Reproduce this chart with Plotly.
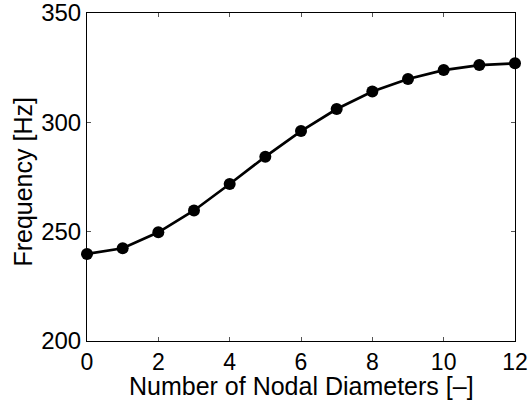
import plotly.graph_objects as go

nodal_diameters = list(range(13))
frequency_hz = [239.8, 242.4, 249.7, 259.7, 271.8, 284.3, 296.0, 306.1, 314.1, 319.8, 323.9, 326.2, 327.0]

x_ticks = [0, 2, 4, 6, 8, 10, 12]
y_ticks = [200, 250, 300, 350]
x_title = "Number of Nodal Diameters [–]"
y_title = "Frequency [Hz]"

fig = go.Figure()
fig.add_trace(go.Scatter(
    x=nodal_diameters, y=frequency_hz, mode="lines+markers",
    line=dict(color="black", width=2.7),
    marker=dict(color="black", size=12),
    showlegend=False, cliponaxis=False,
))

font_family = "Liberation Sans, Arial, sans-serif"
fig.update_layout(
    width=529, height=401,
    margin=dict(l=87, r=14, t=13, b=60),
    plot_bgcolor="white", paper_bgcolor="white",
    font=dict(family=font_family, color="black", size=24),
)
fig.update_xaxes(
    range=[0, 12], tickvals=x_ticks, ticks="inside", ticklen=4, tickcolor="#555",
    showline=True, linecolor="black", linewidth=1, mirror="ticks", showgrid=False, zeroline=False,
    tickfont=dict(size=23), automargin=False, ticklabeloverflow="allow",
)
fig.update_yaxes(
    range=[200, 350], tickvals=y_ticks, ticks="inside", ticklen=4, tickcolor="#555",
    showline=True, linecolor="black", linewidth=1, mirror="ticks", showgrid=False, zeroline=False,
    tickfont=dict(size=24), automargin=False, ticklabeloverflow="allow",
)
fig.add_annotation(text=x_title, xref="paper", yref="paper", x=0.5, y=-0.136,
                   xanchor="center", yanchor="middle", showarrow=False, font=dict(size=25))
fig.add_annotation(text=y_title, xref="paper", yref="paper", x=-0.1495, y=0.486,
                   xanchor="center", yanchor="middle", showarrow=False, textangle=-90,
                   font=dict(size=25))
fig.write_html("out.html")
